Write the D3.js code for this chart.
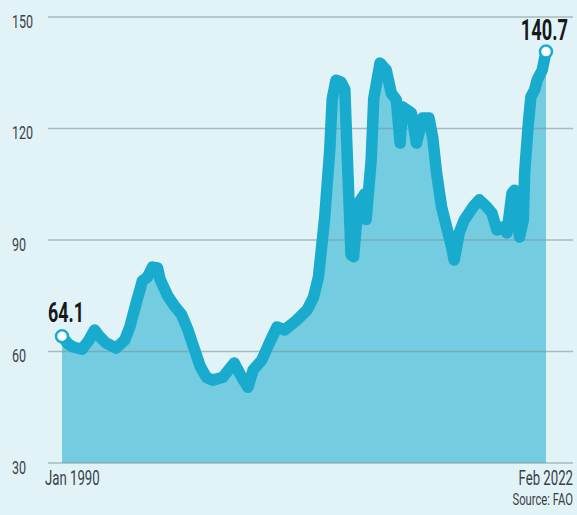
<!DOCTYPE html>
<html>
<head>
<meta charset="utf-8">
<script src="https://cdn.jsdelivr.net/npm/d3@7"></script>
<style>
  html, body { margin: 0; padding: 0; background: #e2f3f8; }
  svg { display: block; }
  text { font-family: Roboto, "Noto Sans", sans-serif; }
</style>
</head>
<body>
<svg id="chart" width="577" height="515"></svg>
<script>
// FAO Food Price Index, monthly readings (2014-2016 = 100)
const months = [
  "1990-01","1990-06","1990-10","1991-05","1991-10","1992-03","1992-07","1992-12","1993-08","1994-03","1994-07",
  "1994-12","1995-05","1995-09","1996-01","1996-05","1996-07","1997-01","1997-06","1997-12",
  "1998-05","1998-10","1999-03","1999-08","2000-01","2000-09","2001-06","2001-12",
  "2002-05","2002-09","2003-04","2003-10","2004-04","2004-10","2005-08","2006-04",
  "2006-09","2007-01","2007-06","2007-10","2007-12","2008-03","2008-07","2008-10",
  "2008-12","2009-03","2009-05","2009-07","2009-10","2010-02","2010-03","2010-07","2010-09",
  "2011-02","2011-07","2011-11","2012-03","2012-06","2012-08","2013-03","2013-07",
  "2013-12","2014-05","2014-08","2014-11","2015-03","2015-07","2015-11","2016-01",
  "2016-05","2016-09","2017-04","2017-09","2018-03","2018-07","2018-11","2019-04",
  "2019-07","2019-11","2020-01","2020-04","2020-05","2020-08","2020-09","2020-12",
  "2021-02","2021-05","2021-07","2021-11","2022-02"
];
const foodIndex = [
  64.1, 62.0, 61.2, 60.6, 62.8, 65.8, 64.0, 62.3, 60.9, 63.1, 66.6,
  73.0, 79.0, 80.0, 82.7, 82.5, 79.5, 75.0, 72.5, 70.0,
  66.0, 61.0, 56.0, 53.0, 52.3, 53.1, 56.9, 53.1,
  50.4, 55.0, 57.7, 62.3, 66.6, 65.8, 68.5, 71.2,
  74.5, 80.0, 96.0, 114.0, 128.0, 133.0, 132.5, 130.5,
  112.0, 86.0, 85.5, 93.5, 100.5, 102.5, 95.5, 111.5, 128.0,
  137.6, 135.7, 129.5, 127.7, 116.1, 125.8, 124.2, 116.1,
  122.8, 122.8, 117.4, 108.0, 98.9, 93.5, 88.1, 84.6,
  91.9, 95.4, 98.9, 100.8, 98.9, 97.3, 92.7, 93.5,
  91.9, 102.6, 103.4, 93.5, 90.8, 95.4, 108.0, 121.5,
  128.5, 130.4, 133.0, 135.7, 140.7
];
const yTicks = [30, 60, 90, 120, 150];
const startLabel = "Jan 1990";
const endLabel = "Feb 2022";
const sourceLabel = "Source: FAO";

const parse = d3.timeParse("%Y-%m");
const data = months.map((m, i) => ({ date: parse(m), value: foodIndex[i] }));
const first = data[0];
const last = data[data.length - 1];

const svg = d3.select("#chart");
const lineColor = "#19abcd";
const fillColor = "#74cce0";

const x = d3.scaleTime()
  .domain([first.date, last.date])
  .range([62, 546]);
const y = d3.scaleLinear()
  .domain([30, 150])
  .range([463, 17]);

svg.append("rect").attr("width", 577).attr("height", 515).attr("fill", "#e2f3f8");

// filled area under the index
svg.append("path")
  .datum(data)
  .attr("fill", fillColor)
  .attr("d", d3.area().x(d => x(d.date)).y0(y(30)).y1(d => y(d.value)));

// horizontal gridlines
svg.append("g")
  .selectAll("line")
  .data(yTicks)
  .join("line")
  .attr("x1", 48).attr("x2", 573)
  .attr("y1", d => y(d)).attr("y2", d => y(d))
  .attr("stroke", "#7d959b")
  .attr("stroke-opacity", 0.6)
  .attr("stroke-width", 1.5);

// index line
svg.append("path")
  .datum(data)
  .attr("fill", "none")
  .attr("stroke", lineColor)
  .attr("stroke-width", 11.5)
  .attr("stroke-linejoin", "round")
  .attr("stroke-linecap", "round")
  .attr("d", d3.line().x(d => x(d.date)).y(d => y(d.value)));

// endpoint markers
svg.append("g")
  .selectAll("circle")
  .data([first, last])
  .join("circle")
  .attr("cx", d => x(d.date))
  .attr("cy", d => y(d.value))
  .attr("r", 6)
  .attr("fill", "#ffffff")
  .attr("stroke", lineColor)
  .attr("stroke-width", 2.5);

// condensed text helper
function label(txt, px, py, opts) {
  const g = svg.append("g")
    .attr("transform", `translate(${px},${py}) scale(${opts.sx},1)`);
  g.append("text")
    .attr("text-anchor", opts.anchor || "start")
    .attr("font-size", opts.size)
    .attr("font-weight", opts.weight || 400)
    .attr("fill", opts.color || "#3a4146")
    .text(txt);
  return g;
}

// y-axis tick labels
yTicks.forEach(t => label(String(t), 12, y(t) + 10.5, { sx: 0.66, size: 19 }));

// value callouts at the first and last points
label(d3.format(".1f")(first.value), 48, y(first.value) - 14, { sx: 0.64, size: 28, weight: 700, color: "#15191c" });
label(d3.format(".1f")(last.value), 568, y(last.value) - 12, { sx: 0.63, size: 29, weight: 700, color: "#15191c", anchor: "end" });

// x-axis endpoints and source
label(startLabel, 45, 485, { sx: 0.66, size: 20 });
label(endLabel, 573, 485, { sx: 0.66, size: 20, anchor: "end" });
label(sourceLabel, 573, 505, { sx: 0.66, size: 17, anchor: "end" });
</script>
</body>
</html>
